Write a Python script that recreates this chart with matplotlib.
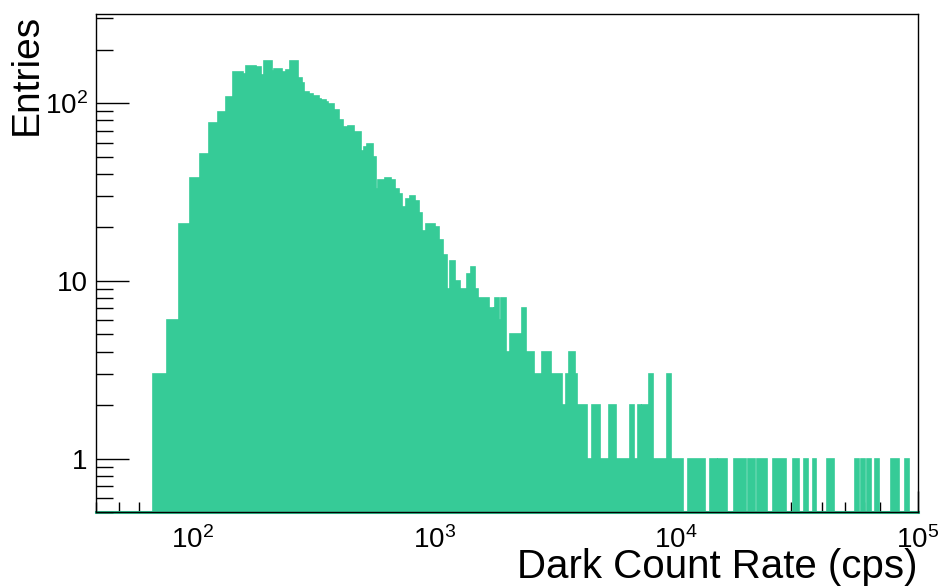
"""
Dark count rate histogram (ROOT style) redrawn with matplotlib.
"""

import numpy as np
import matplotlib
matplotlib.use('Agg')
import matplotlib.pyplot as plt
from matplotlib.ticker import LogLocator, FuncFormatter, NullFormatter

plt.rcParams['font.family'] = ['Liberation Sans', 'DejaVu Sans']
plt.rcParams['mathtext.fontset'] = 'custom'
plt.rcParams['mathtext.rm'] = 'Liberation Sans'
plt.rcParams['mathtext.it'] = 'Liberation Sans:italic'
plt.rcParams['mathtext.bf'] = 'Liberation Sans:bold'

# ============================================================
# Data
# ============================================================
# main body: bin edges in cps and entries per bin
body_edges = [68.7, 78.5, 88.2, 97.9, 108.1, 117.3, 127.4, 137.4, 147.3, 162.0,
              167.3, 184.0, 192.9, 197.2, 214.1, 216.8, 234.6, 245.3, 254.8, 274.9,
              285.6, 291.0, 305.2, 317.0, 335.6, 342.0, 358.6, 365.5, 386.9, 405.8,
              418.7, 439.1, 442.0, 467.8, 498.6, 511.1, 527.8, 560.3, 574.9, 587.6,
              627.9, 662.9, 690.5, 712.5, 735.9, 764.4, 794.0, 835.0, 867.3, 895.0,
              929.6, 1006.7, 1048.6, 1089.1, 1134.5, 1164.0, 1220.6, 1276.3, 1364.0, 1416.8,
              1475.8, 1522.9, 1685.7, 1751.0, 1762.7, 1784.6, 1853.7, 1894.6, 1975.4, 2052.0,
              2299.1, 2401.9, 2584.8, 2796.7, 3029.5, 3381.2, 3518.8, 3603.3, 3814.5, 3887.7,
              4275, 4504, 4868, 5269, 5631, 6431, 6680, 6938, 7173, 7255,
              7702, 8024, 9163, 9517, 10636]
body_counts = [3, 6, 21, 38, 52, 77, 89, 108, 149,
               146, 162, 160, 144, 173, 152, 156, 149, 154, 173,
               139, 129, 115, 112, 110, 106, 104, 101, 99, 92,
               80, 73, 64, 74, 69, 54, 57, 59, 50, 33,
               37, 38, 37, 33, 31, 26, 29, 30, 28, 24,
               19, 21, 20, 17, 14, 9, 13, 10, 9, 11,
               12, 9, 8, 7, 4, 7, 8, 6, 8, 4,
               5, 7, 4, 3, 4, 3, 2, 3, 4, 3,
               2, 1, 2, 1, 2, 1, 2, 1, 2, 1,
               2, 3, 1, 3, 1]

# isolated single entries in the high-rate tail (cps)
tail_lo = [11184, 13836, 14973, 17427, 19780, 21542, 25070, 30520, 33790,
           36660, 42270, 55140, 58370, 61800, 66300, 77620, 88660]
tail_hi = [13195, 14734, 16200, 19408, 21218, 23680, 28370, 32220, 34960,
           38080, 44920, 57110, 60630, 64190, 68870, 83260, 91570]
tail_n = [1] * len(tail_lo)

X_RANGE = (40, 1e5)
Y_RANGE = (0.5, 317)
FILL = '#36cb97'

# ============================================================
# Build the full step outline
# ============================================================
edges = [X_RANGE[0]] + body_edges
vals = [0] + body_counts
for lo, hi, n in zip(tail_lo, tail_hi, tail_n):
    edges += [lo, hi]
    vals += [0, n]
edges.append(X_RANGE[1])
vals.append(0)

vals = np.maximum(np.array(vals, dtype=float), Y_RANGE[0])   # empty bins sit on the floor

# ============================================================
# Plot
# ============================================================
fig = plt.figure(figsize=(9.38, 5.86), dpi=100)
ax = fig.add_axes([0.1023, 0.1258, 0.8763, 0.8503])

ax.stairs(vals, edges, baseline=Y_RANGE[0], fill=True,
          facecolor=FILL, edgecolor=FILL, linewidth=1.2, zorder=2)
# histogram outline along the floor, peeking out under the frame
ax.axhline(Y_RANGE[0], color=FILL, linewidth=2.2, clip_on=False, zorder=1.5)

ax.set_xscale('log')
ax.set_yscale('log')
ax.set_xlim(*X_RANGE)
ax.set_ylim(*Y_RANGE)


def log_label(v, pos):
    e = int(round(np.log10(v)))
    if e == 0:
        return '1'
    if e == 1:
        return '10'
    return r'$10^{%d}$' % e


for axis in (ax.xaxis, ax.yaxis):
    axis.set_major_locator(LogLocator(base=10, numticks=12))
    axis.set_minor_locator(LogLocator(base=10, subs=np.arange(2, 10), numticks=30))
    axis.set_major_formatter(FuncFormatter(log_label))
    axis.set_minor_formatter(NullFormatter())

ax.tick_params(which='both', direction='in', top=False, right=False,
               width=1.0, color='black', labelsize=20)
ax.tick_params(axis='x', which='major', length=15, pad=10)
ax.tick_params(axis='x', which='minor', length=7)
ax.tick_params(axis='y', which='major', length=24, pad=6)
ax.tick_params(axis='y', which='minor', length=12)

for sp in ax.spines.values():
    sp.set_linewidth(1.0)
    sp.set_color('black')
    sp.set_zorder(3)

ax.set_xlabel('Dark Count Rate (cps)', fontsize=29, loc='right')
ax.xaxis.set_label_coords(1.0, -0.0720)
ax.set_ylabel('Entries', fontsize=28, loc='top')
ax.yaxis.set_label_coords(-0.062, 1.0)

fig.savefig('out.png', dpi=100)
